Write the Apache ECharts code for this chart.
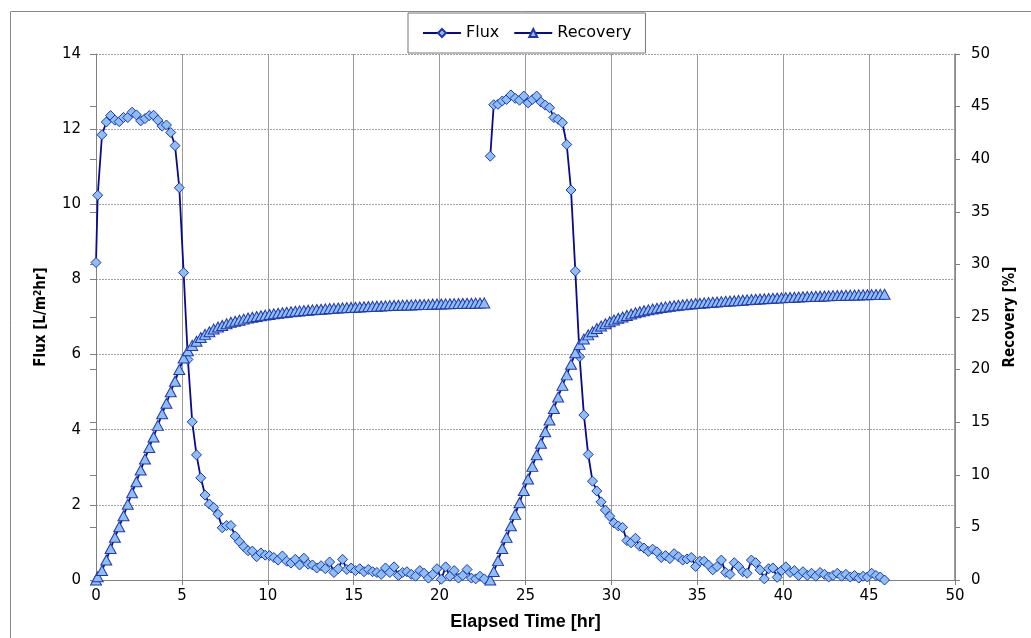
<!DOCTYPE html>
<html>
<head>
<meta charset="utf-8">
<script src="https://cdn.jsdelivr.net/npm/echarts@6/dist/echarts.min.js"></script>
<style>
html,body{margin:0;padding:0;background:#fff;}
#chart{width:1031px;height:638px;}
</style>
</head>
<body>
<div id="chart"></div>
<script>
// ---- Run 1 ----
const t1 = [0, 0.1, 0.35, 0.6, 0.85, 1.1, 1.35, 1.6, 1.85, 2.1, 2.35, 2.6, 2.85, 3.1, 3.35, 3.6, 3.85, 4.1, 4.35, 4.6, 4.85, 5.1, 5.35, 5.6, 5.85, 6.1, 6.35, 6.6, 6.85, 7.1, 7.35, 7.6, 7.85, 8.1, 8.35, 8.6, 8.85, 9.1, 9.35, 9.6, 9.85, 10.1, 10.35, 10.6, 10.85, 11.1, 11.35, 11.6, 11.85, 12.1, 12.35, 12.6, 12.85, 13.1, 13.35, 13.6, 13.85, 14.1, 14.35, 14.6, 14.85, 15.1, 15.35, 15.6, 15.85, 16.1, 16.35, 16.6, 16.85, 17.1, 17.35, 17.6, 17.85, 18.1, 18.35, 18.6, 18.85, 19.1, 19.35, 19.6, 19.85, 20.1, 20.35, 20.6, 20.85, 21.1, 21.35, 21.6, 21.85, 22.1, 22.35, 22.6];
const flux1 = [8.45, 10.24, 11.85, 12.19, 12.36, 12.24, 12.2, 12.31, 12.31, 12.45, 12.38, 12.22, 12.28, 12.36, 12.37, 12.24, 12.08, 12.11, 11.91, 11.56, 10.44, 8.18, 5.87, 4.21, 3.33, 2.72, 2.26, 2.02, 1.93, 1.75, 1.39, 1.45, 1.45, 1.17, 1.02, 0.89, 0.78, 0.77, 0.62, 0.72, 0.66, 0.65, 0.6, 0.53, 0.64, 0.5, 0.45, 0.55, 0.4, 0.58, 0.42, 0.4, 0.32, 0.38, 0.3, 0.48, 0.2, 0.3, 0.55, 0.28, 0.32, 0.25, 0.3, 0.22, 0.28, 0.22, 0.2, 0.15, 0.32, 0.2, 0.35, 0.12, 0.2, 0.22, 0.15, 0.1, 0.25, 0.18, 0.05, 0.15, 0.3, 0.02, 0.35, 0.1, 0.25, 0.05, 0.12, 0.28, 0.05, 0.03, 0.1, 0.03];
const rec1 = [0, 0.3, 0.9, 1.9, 3.0, 4.06, 5.06, 6.1, 7.2, 8.3, 9.34, 10.45, 11.5, 12.6, 13.6, 14.7, 15.8, 16.8, 17.9, 18.9, 20.0, 21.1, 21.8, 22.3, 22.7, 23.05, 23.35, 23.6, 23.85, 24.05, 24.2, 24.35, 24.5, 24.6, 24.7, 24.8, 24.9, 24.97, 25.05, 25.12, 25.18, 25.24, 25.3, 25.35, 25.4, 25.45, 25.5, 25.54, 25.58, 25.62, 25.65, 25.68, 25.71, 25.74, 25.77, 25.8, 25.82, 25.85, 25.87, 25.89, 25.91, 25.93, 25.95, 25.97, 25.99, 26.01, 26.03, 26.05, 26.06, 26.08, 26.1, 26.11, 26.13, 26.14, 26.15, 26.17, 26.18, 26.19, 26.2, 26.22, 26.23, 26.24, 26.25, 26.26, 26.27, 26.28, 26.29, 26.3, 26.31, 26.32, 26.33, 26.34];

// ---- Run 2 ----
const t2 = [22.95, 23.15, 23.4, 23.65, 23.9, 24.15, 24.4, 24.65, 24.9, 25.15, 25.4, 25.65, 25.9, 26.15, 26.4, 26.65, 26.9, 27.15, 27.4, 27.65, 27.9, 28.15, 28.4, 28.65, 28.9, 29.15, 29.4, 29.65, 29.9, 30.15, 30.4, 30.65, 30.9, 31.15, 31.4, 31.65, 31.9, 32.15, 32.4, 32.65, 32.9, 33.15, 33.4, 33.65, 33.9, 34.15, 34.4, 34.65, 34.9, 35.15, 35.4, 35.65, 35.9, 36.15, 36.4, 36.65, 36.9, 37.15, 37.4, 37.65, 37.9, 38.15, 38.4, 38.65, 38.9, 39.15, 39.4, 39.65, 39.9, 40.15, 40.4, 40.65, 40.9, 41.15, 41.4, 41.65, 41.9, 42.15, 42.4, 42.65, 42.9, 43.15, 43.4, 43.65, 43.9, 44.15, 44.4, 44.65, 44.9, 45.15, 45.4, 45.65, 45.9];
const flux2 = [11.28, 12.65, 12.66, 12.75, 12.79, 12.91, 12.82, 12.77, 12.88, 12.7, 12.79, 12.88, 12.72, 12.64, 12.57, 12.31, 12.26, 12.17, 11.59, 10.38, 8.22, 5.94, 4.39, 3.34, 2.63, 2.37, 2.08, 1.86, 1.7, 1.52, 1.44, 1.4, 1.05, 0.99, 1.11, 0.9, 0.85, 0.76, 0.82, 0.75, 0.6, 0.65, 0.57, 0.7, 0.62, 0.53, 0.56, 0.6, 0.36, 0.5, 0.5, 0.4, 0.27, 0.36, 0.53, 0.2, 0.15, 0.46, 0.36, 0.22, 0.18, 0.53, 0.46, 0.27, 0.03, 0.3, 0.32, 0.07, 0.25, 0.35, 0.2, 0.25, 0.12, 0.22, 0.12, 0.18, 0.1, 0.2, 0.15, 0.08, 0.12, 0.18, 0.1, 0.15, 0.08, 0.12, 0.05, 0.1, 0.08, 0.18, 0.12, 0.08, 0.0];
const rec2 = [0, 0.8, 1.84, 3.0, 4.05, 5.16, 6.24, 7.35, 8.5, 9.6, 10.8, 11.9, 13.0, 14.1, 15.2, 16.3, 17.4, 18.5, 19.5, 20.5, 21.6, 22.4, 22.9, 23.3, 23.6, 23.9, 24.15, 24.35, 24.55, 24.72, 24.88, 25.0, 25.15, 25.28, 25.4, 25.5, 25.6, 25.68, 25.76, 25.83, 25.9, 25.96, 26.02, 26.07, 26.12, 26.16, 26.2, 26.24, 26.28, 26.31, 26.34, 26.37, 26.4, 26.43, 26.46, 26.49, 26.52, 26.55, 26.58, 26.6, 26.63, 26.66, 26.68, 26.71, 26.73, 26.76, 26.78, 26.8, 26.82, 26.84, 26.86, 26.88, 26.9, 26.92, 26.94, 26.95, 26.97, 26.98, 27.0, 27.01, 27.03, 27.04, 27.05, 27.07, 27.08, 27.09, 27.1, 27.11, 27.12, 27.13, 27.14, 27.15, 27.16];

const seriesNames = ['Flux', 'Recovery'];
const axisTitles = { x: 'Elapsed Time [hr]', yLeft: 'Flux [L/m{sup|2}hr]', yRight: 'Recovery [%]' };

function pairs(t, v) { return t.map((x, i) => [x, v[i]]); }

const LINE = '#0a0a8c';
const FILL = '#8cc0f5';
const EDGE = '#2235b0';
const labelFont = 'DejaVu Sans';
const narrowFont = "'DejaVu Sans Condensed', 'Liberation Sans', sans-serif";

function fluxSeries(data) {
  return {
    name: seriesNames[0], type: 'line', xAxisIndex: 0, yAxisIndex: 0, data: data,
    symbol: 'diamond', symbolSize: 10,
    lineStyle: { color: LINE, width: 1.8 },
    itemStyle: { color: FILL, borderColor: EDGE, borderWidth: 1 },
    emphasis: { disabled: true }, z: 3
  };
}
function recSeries(data) {
  return {
    name: seriesNames[1], type: 'line', xAxisIndex: 0, yAxisIndex: 1, data: data,
    symbol: 'triangle', symbolSize: [11, 10],
    lineStyle: { color: LINE, width: 1.8 },
    itemStyle: { color: FILL, borderColor: EDGE, borderWidth: 1 },
    emphasis: { disabled: true }, z: 4
  };
}

const chart = echarts.init(document.getElementById('chart'), null, { renderer: 'canvas' });
chart.setOption({
  animation: false,
  backgroundColor: '#fff',
  graphic: [{
    type: 'rect', shape: { x: 10.5, y: 11.5, width: 1040, height: 700 },
    style: { fill: 'none', stroke: '#8a8a8a', lineWidth: 1 }, silent: true, z: -10
  }],
  grid: { left: 96, right: 76, top: 54, bottom: 58, containLabel: false },
  legend: {
    data: seriesNames,
    left: 408, top: 13,
    backgroundColor: '#fff',
    borderColor: '#777', borderWidth: 1,
    padding: [12, 14, 12, 14],
    itemWidth: 38, itemHeight: 10, itemGap: 14,
    textStyle: { fontFamily: labelFont, fontSize: 16, color: '#000' }
  },
  xAxis: [{
    type: 'value', min: 0, max: 50, interval: 5,
    name: axisTitles.x, nameLocation: 'middle', nameGap: 33,
    nameTextStyle: { fontFamily: 'Liberation Sans', fontWeight: 'bold', fontSize: 18, color: '#000' },
    axisLine: { show: true, onZero: false, lineStyle: { color: '#808080', width: 1 } },
    axisTick: { show: true, length: 5, lineStyle: { color: '#808080' } },
    axisLabel: { fontFamily: labelFont, fontSize: 15, color: '#000', margin: 9 },
    splitLine: { show: true, lineStyle: { color: '#9a9a9a', width: 1, type: 'solid' } }
  }],
  yAxis: [{
    type: 'value', min: 0, max: 14, interval: 2, position: 'left',
    name: axisTitles.yLeft, nameLocation: 'middle', nameGap: 47, nameRotate: 90,
    nameTextStyle: {
      fontFamily: narrowFont, fontWeight: 'bold', fontSize: 15, color: '#000',
      rich: { sup: { fontFamily: narrowFont, fontWeight: 'bold', fontSize: 10, verticalAlign: 'top', padding: [0, 0, 6, 0] } }
    },
    axisLine: { show: true, onZero: false, lineStyle: { color: '#808080', width: 1 } },
    axisTick: { show: true, length: 6, lineStyle: { color: '#808080' } },
    axisLabel: { fontFamily: labelFont, fontSize: 15, color: '#000', margin: 15 },
    splitLine: { show: true, lineStyle: { color: '#a0a0a0', width: 1, type: [2, 1] } }
  }, {
    type: 'value', min: 0, max: 50, interval: 5, position: 'right',
    name: axisTitles.yRight, nameLocation: 'middle', nameGap: 48, nameRotate: 90,
    nameTextStyle: { fontFamily: narrowFont, fontWeight: 'bold', fontSize: 15, color: '#000' },
    axisLine: { show: true, onZero: false, lineStyle: { color: '#808080', width: 1.5 } },
    axisTick: { show: true, length: 5, lineStyle: { color: '#808080' } },
    axisLabel: { fontFamily: labelFont, fontSize: 15, color: '#000', margin: 16 },
    splitLine: { show: false }
  }, {
    type: 'value', min: 0, max: 50, interval: 5, position: 'right',
    axisLine: { show: false },
    axisTick: { show: true, inside: true, length: 6, lineStyle: { color: '#808080' } },
    axisLabel: { show: false },
    splitLine: { show: false }
  }],
  series: [
    fluxSeries(pairs(t1, flux1)),
    fluxSeries(pairs(t2, flux2)),
    recSeries(pairs(t1, rec1)),
    recSeries(pairs(t2, rec2))
  ]
});
</script>
</body>
</html>
